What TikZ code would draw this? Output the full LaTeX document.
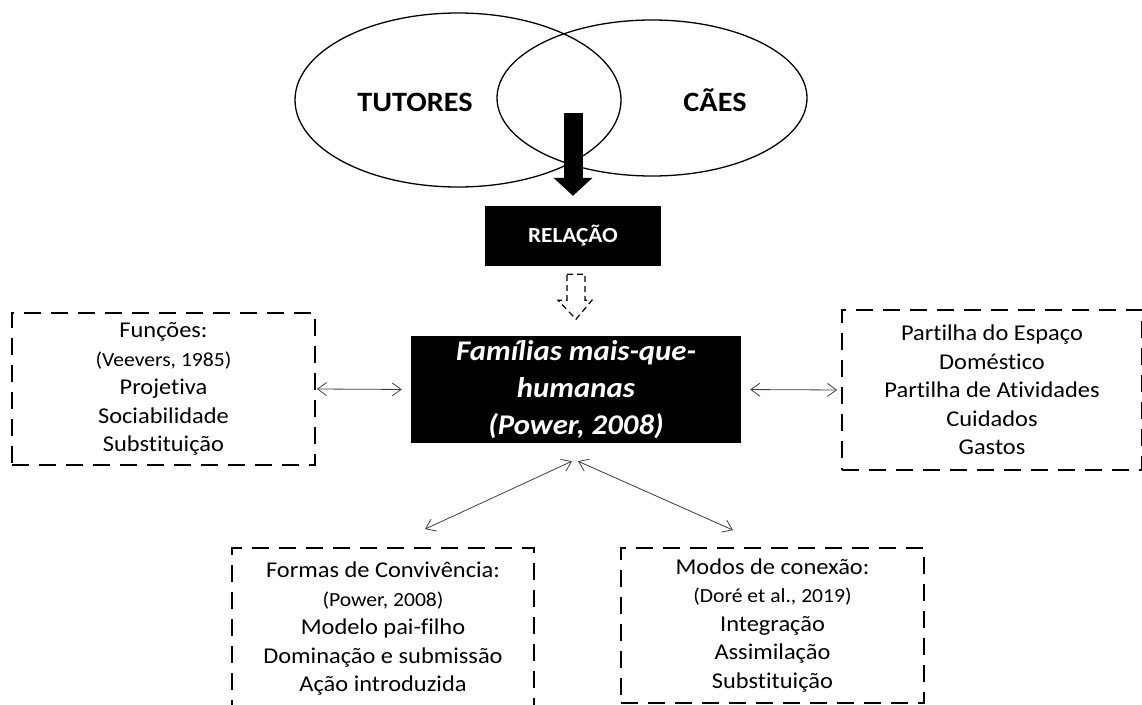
\documentclass[tikz,border=0pt]{standalone}
\usepackage{fontspec}
\setmainfont[FakeStretch=1.08, Ligatures=NoCommon]{Carlito}
\usetikzlibrary{shapes.geometric, calc, positioning, arrows.meta}
\newcommand{\refsize}{\fontsize{20}{28.5}\selectfont}

\begin{document}
\begin{tikzpicture}[
		x=1pt, y=-1pt, % one unit per pixel, y going down
		>={Straight Barb[length=9pt,width=13pt]}, % open arrow heads
		venn/.style={
				draw,
				ellipse,
				line width=1.3pt,
				inner sep=0pt
			},
		vennlabel/.style={
				font=\fontsize{28}{32}\selectfont\bfseries
			},
		blackbox/.style={
				rectangle,
				fill=black,
				text=white,
				align=center,
				inner sep=0pt
			},
		dashbox/.style={
				draw,
				rectangle,
				line width=1.8pt,
				dash pattern=on 17pt off 10pt,
				align=center,
				inner sep=0pt,
				font=\fontsize{22.6}{28.5}\selectfont
			},
		link/.style={
				<->,
				draw=black!75,
				line width=0.8pt
			}
	]
	\useasboundingbox (0,0) rectangle (1142,704);
	\fill[white] (0,0) rectangle (1142,704);
	\clip (0,0) rectangle (1142,704);

	% Nodes
	\node[venn, minimum width=326pt, minimum height=174pt] (tutores) at (458,100) {};
	\node[venn, minimum width=310pt, minimum height=156pt] (caes) at (652,98) {};
	\node[vennlabel] (tutoreslabel) at (415,102) {TUTORES};
	\node[vennlabel] (caeslabel) at (715,100) {CÃES};
	\coordinate (lens) at (573,113);

	\node[blackbox, minimum width=176pt, minimum height=60pt, font=\fontsize{21.5}{24}\selectfont\bfseries] (relacao) at (573,236) {RELAÇÃO};
	\node[blackbox, minimum width=330pt, minimum height=107pt, font=\fontsize{28.5}{37}\selectfont\bfseries\itshape] (familias) at (576,389.5) {Famílias mais-que-\\humanas\\(Power, 2008)};

	\node[dashbox, minimum width=303pt, minimum height=152pt] (funcoes) at (163.5,389) {Funções:\\{\refsize (Veevers, 1985)}\\Projetiva\\Sociabilidade\\Substituição};
	\node[dashbox, minimum width=300pt, minimum height=160pt] (partilha) at (992,390) {Partilha do Espaço\\Doméstico\\Partilha de Atividades\\Cuidados\\Gastos};
	\node[dashbox, minimum width=302pt, minimum height=162pt] (formas) at (383,629) {Formas de Convivência:\\{\refsize (Power, 2008)}\\Modelo pai-filho\\Dominação e submissão\\Ação introduzida};
	\node[dashbox, minimum width=303pt, minimum height=155pt] (modos) at (772.5,625.5) {Modos de conexão:\\{\refsize (Doré et al., 2019)}\\Integração\\Assimilação\\Substituição};

	% Paths
	\draw[line width=19pt, -{Triangle[length=18pt,width=38pt]}, shorten >=10pt] (lens) -- (relacao.north);
	\draw[line width=1.2pt, dash pattern=on 6pt off 4pt, shift={(relacao.south)}] (-6,8) -- (12,8) -- (12,34) -- (19,34) -- (3,53) -- (-15,34) -- (-6,34) -- cycle; % hollow arrow to the family box

	\draw[link, shorten <=1pt, shorten >=9pt] (funcoes.east) -- (familias.west);
	\draw[link, shorten <=9pt, shorten >=4pt] (familias.east) -- (partilha.west);
	\draw[link] ($(familias.south)+(-4,18)$) -- ($(formas.north)+(42,-18)$);
	\draw[link] ($(familias.south)+(2,18)$) -- ($(modos.north)+(-39.5,-17)$);
\end{tikzpicture}
\end{document}
